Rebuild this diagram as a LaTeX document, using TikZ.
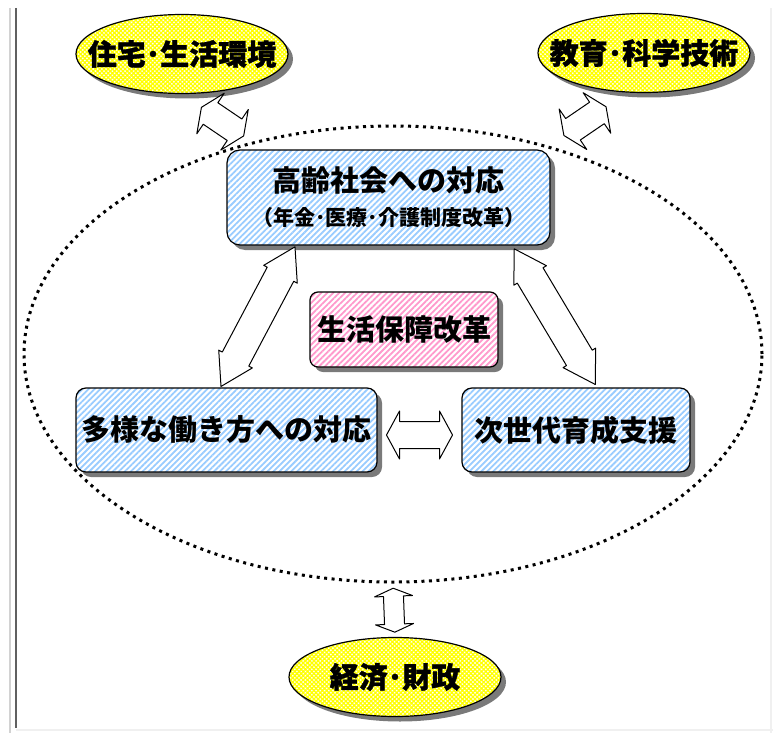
\documentclass[tikz,border=0pt]{standalone}
\usepackage{fontspec}
\newfontfamily\jpfont{Noto Sans CJK JP}
\newfontfamily\jpheavy[BoldFeatures={FakeBold=1.2}]{Noto Sans CJK JP}
\usetikzlibrary{shapes.geometric,shadows,patterns.meta}
\definecolor{stripeblue}{HTML}{99CCFF}
\definecolor{stripepink}{HTML}{FF99CC}
\definecolor{meshyellow}{HTML}{FFFF00}
\definecolor{shadowgray}{HTML}{7A7A7A}
\tikzset{
	pics/twin arrow/.style args={#1/#2/#3/#4}{code={
		\draw[fill=white, line width=1pt, line join=round]
			(-#1,0) -- (-#1+#2,#3) -- (-#1+#2,#4) -- (#1-#2,#4) -- (#1-#2,#3) -- (#1,0)
			-- (#1-#2,-#3) -- (#1-#2,-#4) -- (-#1+#2,-#4) -- (-#1+#2,-#3) -- cycle;
	}}
}
\begin{document}
\begin{tikzpicture}[x=1pt, y=-1pt,
	box shadow/.style={drop shadow={shadow xshift=5pt, shadow yshift=-5pt, fill=shadowgray, opacity=1}},
	theme box/.style={draw, line width=1.2pt, rounded corners=10pt, box shadow, preaction={fill=white},
		pattern={Lines[angle=45, distance=4.2pt, line width=1.8pt]}, pattern color=stripeblue,
		inner sep=0pt, font=\jpfont\bfseries\fontsize{29}{35}\selectfont},
	core box/.style={theme box, pattern color=stripepink},
	outer field/.style={ellipse, draw, line width=1.2pt, box shadow, preaction={fill=white},
		pattern={Hatch[angle=45, distance=3pt, line width=1.3pt]}, pattern color=meshyellow,
		minimum width=212, minimum height=79, inner sep=0pt},
	field label/.style={font=\jpheavy\bfseries\fontsize{29}{35}\selectfont, inner sep=0pt}]
	\useasboundingbox (0,0) rectangle (773,733);

	% frame of the page
	\draw[gray!35, line width=1.5pt] (10,8) -- (10,733);
	\draw[gray!75!black, line width=2pt] (16,8) -- (16,728);
	\draw[gray!12, line width=2pt] (16,730) -- (773,730);
	\draw[gray!12, line width=2pt] (771,8) -- (771,733);

	% dotted field of the reform
	\node[ellipse, draw, line width=3pt, dash pattern=on 3pt off 4.5pt, minimum width=738, minimum height=456, inner sep=0pt] (field) at (393,354) {};

	% surrounding fields
	\foreach \name/\pos/\txt in {E1/{182,54}/住宅･生活環境, E2/{644,53}/教育･科学技術, E3/{395,677}/経済･財政}
		\node[outer field, label={[field label]center:\txt}] (\name) at (\pos) {};

	% reform themes
	\node[theme box, rounded corners=13pt, minimum width=323, minimum height=95, align=center] (T) at (388.5,197.5)
		{高齢社会への対応\\[-1pt]{\fontsize{21}{25}\selectfont（年金･医療･介護制度改革）}};
	\node[core box, rounded corners=8pt, minimum width=188, minimum height=75] (C) at (404,329.5) {生活保障改革};
	\node[theme box, minimum width=301, minimum height=84] (L) at (226.5,430) {多様な働き方への対応};
	\node[theme box, minimum width=228, minimum height=84] (R) at (576,430) {次世代育成支援};

	% links to the surrounding fields
	\path (E1.south) -- pic[sloped] {twin arrow=25.5/11/24.5/13} ([xshift=37pt]T.north west);
	\path ([xshift=-7pt]T.north east) -- pic[sloped] {twin arrow=25.5/11/24.5/13} ([xshift=-18pt]E2.south);
	\path (field.south) -- pic[sloped] {twin arrow=22/8/19/10} (E3.north);

	% links between the themes
	\path ([xshift=-6pt]L.north) -- pic[sloped] {twin arrow=79/31/19/15} ([xshift=-93pt]T.south);
	\path ([xshift=124pt]T.south) -- pic[sloped] {twin arrow=79/31/19/15} ([xshift=21pt]R.north);
	\path ([yshift=-5pt]L.east) -- pic[sloped] {twin arrow=33/13/24/13.5} ([yshift=-5pt]R.west);
\end{tikzpicture}
\end{document}
